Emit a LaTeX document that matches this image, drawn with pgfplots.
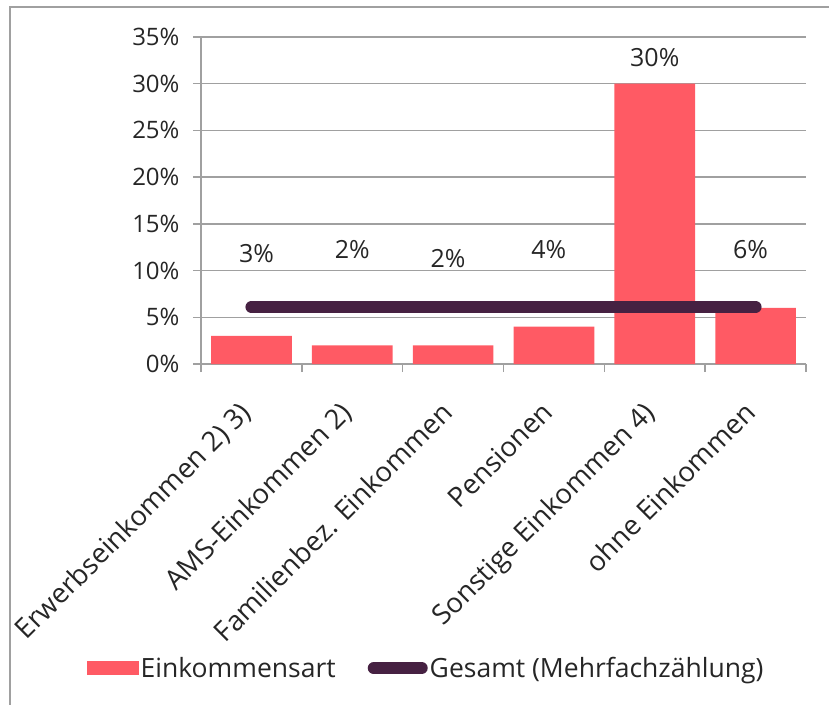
\documentclass[border=0pt]{standalone}
\usepackage{pgfplots}
\pgfplotsset{compat=1.18}
\usepackage{fontspec}
\setmainfont{Open Sans}
\definecolor{barred}{HTML}{FF5A64}
\definecolor{linepurple}{HTML}{462142}
\definecolor{gridgray}{HTML}{A0A0A0}
\definecolor{txt}{HTML}{262626}
\newcommand{\fst}{\fontsize{24}{27}\selectfont}
\newcommand{\fsl}{\fontsize{27.5}{31}\selectfont}
\newcommand{\fsg}{\fontsize{26.5}{30}\selectfont}
\newcommand{\fsd}{\fontsize{25}{29}\selectfont}
\begin{document}
\begin{tikzpicture}[x=1pt,y=1pt]
\path[use as bounding box] (0,0) rectangle (829,704);
\draw[gridgray, line width=1.5pt] (10,-5) -- (10,697) -- (840,697);
\begin{axis}[
  at={(201pt,340pt)}, anchor=south west,
  scale only axis, width=605pt, height=327pt,
  xmin=-0.5, xmax=5.5, ymin=0, ymax=35,
  axis x line*=bottom, axis y line*=left,
  axis line style={gridgray, line width=1.5pt, -},
  ytick={0,5,...,35},
  yticklabels={0\%,5\%,10\%,15\%,20\%,25\%,30\%,35\%},
  ymajorgrids, grid style={gridgray, line width=1.5pt},
  xtick={0,...,5},
  xticklabels={Erwerbseinkommen 2) 3),AMS-Einkommen 2),Familienbez. Einkommen,Pensionen,Sonstige Einkommen 4),ohne Einkommen},
  minor xtick={-0.5,0.5,...,5.5},
  tick align=outside,
  major tick length=8pt, minor tick length=8pt,
  x tick style={draw=none},
  minor x tick style={draw=gridgray, line width=1.5pt},
  y tick style={gridgray, line width=1.5pt},
  xtick style={draw=none},
  every minor tick/.style={gridgray, line width=1.5pt},
  yticklabel style={font=\fst, text=txt, xshift=-10pt},
  xticklabel style={font=\fsl, text=txt, rotate=45, anchor=north east, inner sep=0pt, xshift=-29pt, yshift=-10pt},
  legend style={at={(0.372,-0.93)}, anchor=center, draw=none, fill=none,
    legend columns=2, font=\fsg, text=txt,
    /tikz/every even column/.append style={column sep=30pt}},
  legend cell align=left,
]
\addplot[ybar, bar width=0.8, fill=barred, draw=none,
  legend image code/.code={\fill[barred] (0pt,-7pt) rectangle (52pt,7pt);}]
  coordinates {(0,3) (1,2) (2,2) (3,4) (4,30) (5,6)};
\addlegendentry{Einkommensart}
\addplot[linepurple, line width=12pt, line cap=round,
  legend image code/.code={\draw[linepurple, line width=12pt, line cap=round] (6pt,0pt) -- (54pt,0pt);}]
  coordinates {(0,6.1) (5,6.1)};
\addlegendentry{Gesamt (Mehrfachzählung)}
\node[font=\fsd, text=txt] at (axis cs:0.05,11.8) {3\%};
\node[font=\fsd, text=txt] at (axis cs:1.0,12.2) {2\%};
\node[font=\fsd, text=txt] at (axis cs:1.95,11.3) {2\%};
\node[font=\fsd, text=txt] at (axis cs:2.95,12.3) {4\%};
\node[font=\fsd, text=txt] at (axis cs:4.0,32.8) {30\%};
\node[font=\fsd, text=txt] at (axis cs:4.95,12.2) {6\%};
\end{axis}
\end{tikzpicture}
\end{document}
